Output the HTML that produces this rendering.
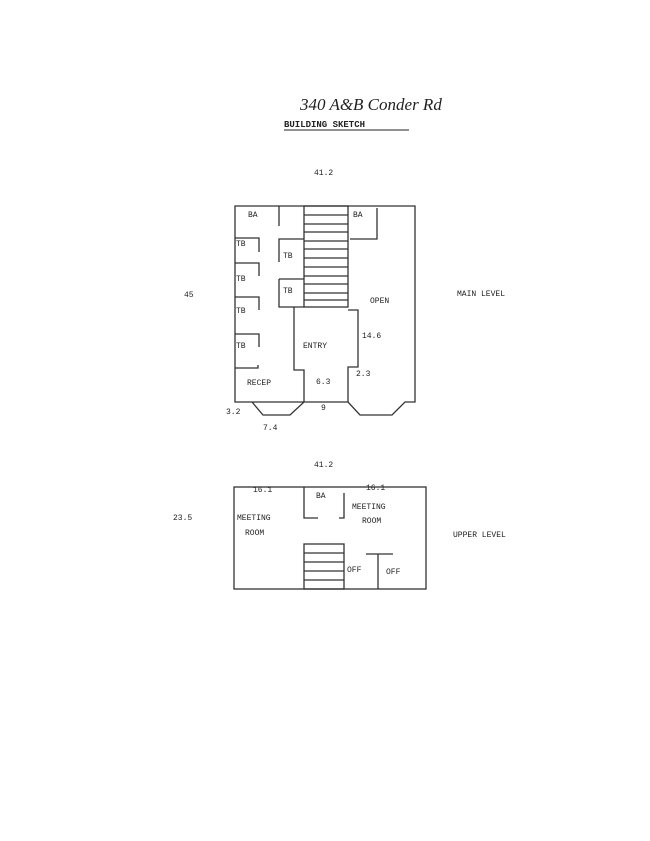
<!DOCTYPE html>
<html><head><style>
html,body{margin:0;padding:0;background:#fff;}
svg{display:block}
text{font-family:"Liberation Mono",monospace;font-size:8px;fill:#222}
</style></head><body>
<svg width="650" height="841" viewBox="0 0 650 841" xmlns="http://www.w3.org/2000/svg">
<text x="300" y="110" style="font-family:'Liberation Serif',serif;font-style:italic;font-size:17px">340 A&amp;B Conder Rd</text>
<text x="284" y="127" style="font-size:9px;font-weight:bold">BUILDING SKETCH</text>
<line x1="284" y1="130" x2="409" y2="130" stroke="#222" stroke-width="1"/>
<g stroke="#333" stroke-width="1.3" fill="none">
<!-- main level -->
<polyline points="304,402 235,402 235,206 415,206 415,402 405,402 392,415 360,415 348,402 304,402 290,415 263,415 252,402"/>
<rect x="304" y="206" width="44" height="101"/>
<path d="M304 215H348M304 224H348M304 232H348M304 241H348M304 249H348M304 258H348M304 267H348M304 276H348M304 284H348M304 293H348M304 300H348"/>
<path d="M279 206V226"/>
<path d="M377 208V239H350"/>
<path d="M279 262V239H304M279 279V307H304M279 279H304"/>
<path d="M235 238H259V252M235 263H259V276M235 297H259V310M235 334H259V347M235 368H258V365"/>
<path d="M294 307V370H304V402M348 310H358V367H348V402"/>
<!-- upper -->
<rect x="234" y="487" width="192" height="102"/>
<path d="M304 487V518H318M339 518H344V493"/>
<rect x="304" y="544" width="40" height="45"/>
<path d="M304 553H344M304 562H344M304 571H344M304 580H344"/>
<path d="M366 554H393M378 554V589"/>
</g>
<text x="314" y="175">41.2</text>
<text x="248" y="217">BA</text>
<text x="353" y="217">BA</text>
<text x="236" y="246">TB</text>
<text x="283" y="258">TB</text>
<text x="236" y="281">TB</text>
<text x="283" y="293">TB</text>
<text x="236" y="313">TB</text>
<text x="236" y="348">TB</text>
<text x="184" y="297">45</text>
<text x="370" y="303">OPEN</text>
<text x="457" y="296">MAIN LEVEL</text>
<text x="362" y="338">14.6</text>
<text x="303" y="348">ENTRY</text>
<text x="356" y="376">2.3</text>
<text x="247" y="385">RECEP</text>
<text x="316" y="384">6.3</text>
<text x="321" y="410">9</text>
<text x="226" y="414">3.2</text>
<text x="263" y="430">7.4</text>
<text x="314" y="467">41.2</text>
<text x="253" y="492">16.1</text>
<text x="366" y="490">16.1</text>
<text x="316" y="498">BA</text>
<text x="352" y="509">MEETING</text>
<text x="362" y="523">ROOM</text>
<text x="237" y="520">MEETING</text>
<text x="245" y="535">ROOM</text>
<text x="173" y="520">23.5</text>
<text x="453" y="537">UPPER LEVEL</text>
<text x="347" y="572">OFF</text>
<text x="386" y="574">OFF</text>
</svg>
</body></html>
